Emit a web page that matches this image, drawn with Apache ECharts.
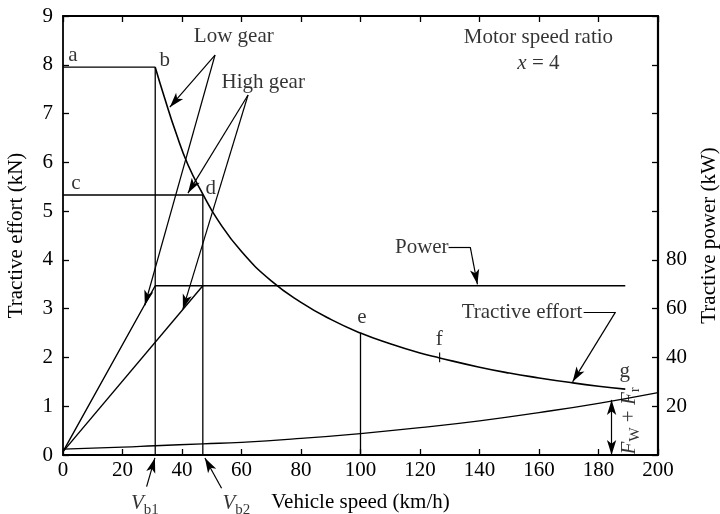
<!DOCTYPE html>
<html>
<head>
<meta charset="utf-8">
<script src="https://cdn.jsdelivr.net/npm/echarts@6/dist/echarts.min.js"></script>
<style>html,body{margin:0;padding:0;background:#fff}#main{width:720px;height:514px}</style>
</head>
<body>
<div id="main"></div>
<script>
// ---------- data ----------
const speedTicks = [0, 20, 40, 60, 80, 100, 120, 140, 160, 180, 200];
const effortTicks = [0, 1, 2, 3, 4, 5, 6, 7, 8, 9];
const powerTickLabels = [20, 40, 60, 80];

// Low gear: constant tractive effort a-b, then vertical at Vb1
const lowGearEffortX = [0, 31, 31];
const lowGearEffortY = [7.95, 7.95, 0];
// High gear: constant tractive effort c-d, then vertical at Vb2
const highGearEffortX = [0, 47, 47];
const highGearEffortY = [5.33, 5.33, 0];
// Constant-power tractive effort b-d-e-f-g (kN)
const effortCurveX = [31, 34, 38, 42, 47, 52, 60, 70, 80, 90, 100, 110, 120, 126.6, 140, 150, 160, 170, 180, 189];
const effortCurveY = [7.95, 7.35, 6.6, 5.95, 5.35, 4.82, 4.17, 3.57, 3.13, 2.78, 2.50, 2.28, 2.09, 1.99, 1.80, 1.68, 1.58, 1.49, 1.41, 1.35];
// Vertical at e
const pointEX = [100, 100];
const pointEY = [0, 2.5];
// Tractive power (kW, right axis)
const lowGearPowerX = [0, 31, 189];
const lowGearPowerY = [1.4, 69.4, 69.4];
const highGearPowerX = [0, 47];
const highGearPowerY = [1.4, 69.4];
// Resistance Fw + Fr (kN)
const resistX = [0, 20, 31, 47, 60, 80, 100, 120, 140, 160, 180, 200];
const resistY = [0.12, 0.16, 0.19, 0.23, 0.26, 0.34, 0.44, 0.56, 0.70, 0.87, 1.06, 1.28];
// small tick marking f
const tickFX = [126.6, 126.6];
const tickFY = [1.9, 2.1];

// annotation texts (data coordinates: speed, effort)
const annoText = ['a', 'b', 'c', 'd', 'e', 'f', 'g', 'Low gear', 'High gear', 'Motor speed ratio', '{i|x} = 4', 'Power', 'Tractive effort', '{i|V}{s|b1}', '{i|V}{s|b2}'];
const annoX = [3.3, 34.2, 4.3, 49.7, 100.5, 126.5, 188.8, 57.4, 67.3, 159.8, 159.8, 120.6, 154.3, 27.5, 58.3];
const annoY = [8.2, 8.09, 5.57, 5.47, 2.81, 2.36, 1.71, 8.57, 7.64, 8.55, 8.03, 4.26, 2.93, -1.0, -1.0];

// arrows (arrowhead at the second point)
const arrowX1 = [51.1, 51.1, 62.2, 62.2, 136.9, 185.7, 28.1, 53.3];
const arrowY1 = [8.20, 8.20, 7.38, 7.38, 4.26, 2.93, -0.65, -0.68];
const arrowX2 = [35.9, 27.5, 42.0, 40.3, 139.3, 171.3, 30.9, 47.7];
const arrowY2 = [7.13, 3.07, 5.37, 2.99, 3.50, 1.50, -0.06, -0.06];
// plain leader lines (no arrowhead)
const leaderX1 = [129.6, 175.0];
const leaderY1 = [4.26, 2.93];
const leaderX2 = [136.9, 185.7];
const leaderY2 = [4.26, 2.93];
// double arrow Fw + Fr
const doubleX = [184.4, 184.4];
const doubleY = [0.0, 1.13];

// ---------- chart ----------
const FONT = 'Liberation Serif';
const FS = 21;
const black = '#000';
const zip = (xs, ys) => xs.map((x, i) => [x, ys[i]]);
const segs = (x1, y1, x2, y2) => x1.map((x, i) => ({ coords: [[x, y1[i]], [x2[i], y2[i]]] }));

function lineSeries(name, data, width, yIdx, smooth) {
  return {
    name, type: 'line', data, yAxisIndex: yIdx || 0, smooth: !!smooth,
    showSymbol: false, symbol: 'none', silent: true,
    lineStyle: { color: black, width: width || 1.3 },
    animation: false
  };
}
function linesSeries(name, data, symbol) {
  return {
    name, type: 'lines', coordinateSystem: 'cartesian2d', clip: false, silent: true,
    symbol, symbolSize: [[7, 15], [7, 15]],
    lineStyle: { color: black, width: 1.2, opacity: 1, curveness: 0 },
    data, animation: false
  };
}

const richStyles = {
  i: { fontStyle: 'italic', fontFamily: FONT, fontSize: FS, color: black },
  s: { fontFamily: FONT, fontSize: 15, color: black, padding: [12, 0, 0, 0] }
};
const axisLineStyle = { show: true, onZero: false, lineStyle: { color: black, width: 1.8 } };
const tickStyle = { show: true, inside: true, length: 6, lineStyle: { color: black, width: 1.3 } };
const labelBase = { fontFamily: FONT, fontSize: FS, color: black };

const chart = echarts.init(document.getElementById('main'), null, { renderer: 'canvas' });
chart.setOption({
  animation: false,
  backgroundColor: '#fff',
  grid: { left: 63, right: 62, top: 16, bottom: 59, containLabel: false, outerBoundsMode: 'none' },
  xAxis: [
    {
      type: 'value', min: 0, max: 200, interval: 20, position: 'bottom',
      name: 'Vehicle speed (km/h)', nameLocation: 'middle', nameGap: 37,
      nameTextStyle: labelBase,
      axisLine: axisLineStyle, axisTick: tickStyle,
      axisLabel: Object.assign({ margin: 5, formatter: v => speedTicks.includes(v) ? String(v) : '' }, labelBase),
      splitLine: { show: false }
    },
    {
      type: 'value', min: 0, max: 200, interval: 20, position: 'top',
      axisLine: axisLineStyle, axisTick: tickStyle,
      axisLabel: { show: false }, splitLine: { show: false }
    }
  ],
  yAxis: [
    {
      type: 'value', min: 0, max: 9, interval: 1, position: 'left',
      name: 'Tractive effort (kN)', nameLocation: 'middle', nameGap: 36, nameRotate: 90,
      nameTextStyle: labelBase,
      axisLine: axisLineStyle, axisTick: tickStyle,
      axisLabel: Object.assign({ margin: 10, formatter: v => effortTicks.includes(v) ? String(v) : '' }, labelBase),
      splitLine: { show: false }
    },
    {
      type: 'value', min: 0, max: 180, interval: 20, position: 'right',
      name: 'Tractive power (kW)', nameLocation: 'middle', nameGap: 41, nameRotate: 90,
      nameTextStyle: labelBase,
      axisLine: { show: true, onZero: false, lineStyle: { color: black, width: 2.2 } }, axisTick: tickStyle,
      axisLabel: Object.assign({ margin: 8, formatter: v => powerTickLabels.includes(v) ? String(v) : '' }, labelBase),
      splitLine: { show: false }
    }
  ],
  series: [
    lineSeries('lowGearEffort', zip(lowGearEffortX, lowGearEffortY), 1.3),
    lineSeries('highGearEffort', zip(highGearEffortX, highGearEffortY), 1.3),
    lineSeries('effortCurve', zip(effortCurveX, effortCurveY), 1.6, 0, true),
    lineSeries('pointE', zip(pointEX, pointEY), 1.3),
    lineSeries('lowGearPower', zip(lowGearPowerX, lowGearPowerY), 1.4, 1),
    lineSeries('highGearPower', zip(highGearPowerX, highGearPowerY), 1.4, 1),
    lineSeries('resistance', zip(resistX, resistY), 1.3, 0, true),
    lineSeries('tickF', zip(tickFX, tickFY), 1.1),
    linesSeries('arrows', segs(arrowX1, arrowY1, arrowX2, arrowY2), ['none', 'arrow']),
    linesSeries('leaders', segs(leaderX1, leaderY1, leaderX2, leaderY2), ['none', 'none']),
    linesSeries('doubleArrow', [{ coords: zip(doubleX, doubleY) }], ['arrow', 'arrow']),
    {
      name: 'annotations', type: 'scatter', clip: false, silent: true,
      symbolSize: 0,
      data: annoX.map((x, i) => ({ value: [x, annoY[i]], label: { formatter: annoText[i] } })),
      label: Object.assign({ show: true, position: 'inside', rich: richStyles }, labelBase)
    },
    {
      name: 'fwfr', type: 'scatter', clip: false, silent: true, symbolSize: 0,
      data: [[190.3, 0.70]],
      label: Object.assign({
        show: true, position: 'inside', rotate: 90,
        formatter: '{i|F}{s|W} + {i|F}{s|r}', rich: richStyles
      }, labelBase)
    }
  ]
});
</script>
</body>
</html>
